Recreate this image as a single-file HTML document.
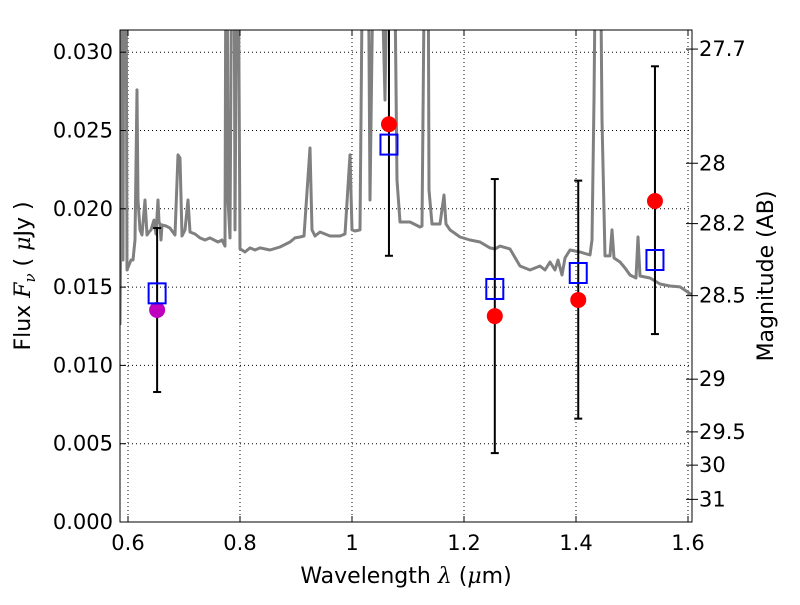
<!DOCTYPE html>
<html><head><meta charset="utf-8"><style>
body{margin:0;background:#fff}
svg text{font-family:"DejaVu Sans","Liberation Sans",sans-serif;fill:#000}
</style></head><body>
<svg id="chart" width="800" height="600" xmlns="http://www.w3.org/2000/svg" xml:space="preserve">
<rect width="800" height="600" fill="#fff"/>
<defs><clipPath id="clip"><rect x="120" y="30" width="572" height="492"/></clipPath></defs>
<g id="grid"></g>
<g id="marks" clip-path="url(#clip)"></g>
<rect x="120" y="30" width="572" height="492" fill="none" stroke="#000" stroke-width="1"/>
<g id="axes"></g>
<text x="406" y="583" font-size="22" text-anchor="middle">Wavelength  <tspan font-style="italic" font-family="DejaVu Serif, serif">λ</tspan> (<tspan font-style="italic" font-family="DejaVu Serif, serif">μ</tspan>m)</text>
<text transform="translate(30,276) rotate(-90)" font-size="22" text-anchor="middle">Flux  <tspan font-style="italic" font-family="DejaVu Serif, serif">F<tspan font-size="15" dy="5">ν</tspan></tspan><tspan dy="-5">  ( </tspan><tspan font-style="italic" font-family="DejaVu Serif, serif">μ</tspan>Jy )</text>
<text transform="translate(773,276) rotate(-90)" font-size="22" text-anchor="middle">Magnitude (AB)</text>
</svg>
<script>
const specLam=[0.5857,0.5875,0.5893,0.5911,0.5929,0.5964,0.5982,0.6018,0.6054,0.6089,0.6125,0.6161,0.6179,0.6214,0.625,0.6304,0.6339,0.6375,0.6411,0.6464,0.65,0.6536,0.6554,0.6571,0.6589,0.6607,0.6679,0.675,0.6839,0.6893,0.6929,0.6964,0.7018,0.7071,0.7107,0.7196,0.7286,0.7375,0.7464,0.7607,0.7679,0.7732,0.775,0.7768,0.7786,0.7821,0.7857,0.7893,0.7911,0.7946,0.7964,0.8,0.8036,0.8089,0.8179,0.8268,0.8357,0.8536,0.8714,0.8893,0.8982,0.9071,0.9143,0.925,0.9286,0.9339,0.9429,0.9607,0.9786,0.9875,0.9964,1.0,1.0054,1.0143,1.0196,1.0286,1.0321,1.0393,1.05,1.0589,1.0643,1.075,1.0804,1.0857,1.1036,1.1214,1.125,1.1304,1.1357,1.1375,1.1429,1.1571,1.1643,1.1679,1.175,1.1929,1.2107,1.2286,1.2464,1.2554,1.2643,1.2821,1.3,1.3179,1.3357,1.3446,1.3536,1.3625,1.3679,1.375,1.3804,1.3893,1.4071,1.425,1.4286,1.4321,1.4357,1.4429,1.4464,1.4518,1.4607,1.4643,1.4679,1.4786,1.4875,1.4964,1.5071,1.5107,1.5143,1.5321,1.55,1.5679,1.5857,1.6071];
const specFlux=[0.01258,0.02056,0.04,0.01673,0.04,0.04,0.01609,0.01641,0.01673,0.01673,0.01801,0.02759,0.02056,0.01865,0.01833,0.02056,0.01833,0.01852,0.01865,0.01928,0.01839,0.02056,0.01916,0.01903,0.01801,0.01897,0.0189,0.01877,0.01833,0.02344,0.02324,0.01826,0.01865,0.02056,0.01852,0.01839,0.01814,0.01801,0.01814,0.01788,0.01801,0.01762,0.04,0.04,0.02056,0.01814,0.04,0.04,0.01865,0.04,0.04,0.01743,0.01737,0.01724,0.0175,0.01737,0.0175,0.01737,0.01756,0.01788,0.01814,0.0182,0.01826,0.02388,0.01865,0.01826,0.01852,0.01826,0.01826,0.01839,0.02344,0.01865,0.01858,0.01865,0.04,0.04,0.02056,0.04,0.04,0.02695,0.04,0.04,0.02184,0.01916,0.01916,0.01884,0.0189,0.04,0.04,0.0212,0.01903,0.01903,0.02088,0.01903,0.01865,0.0182,0.01801,0.01788,0.0175,0.01743,0.01762,0.01743,0.01635,0.01609,0.01635,0.01609,0.0166,0.01609,0.01673,0.01577,0.01686,0.01737,0.01724,0.01705,0.01801,0.02695,0.04,0.04,0.02567,0.01699,0.01699,0.01865,0.01686,0.0166,0.01622,0.01577,0.01558,0.0182,0.01571,0.01558,0.0152,0.01507,0.01501,0.0145];
const obsLam=[1.066,1.255,1.404,1.541];
const obsFlux=[0.0254,0.01315,0.01418,0.0205];
const modelLam=[0.652,1.066,1.255,1.404,1.541];
const modelFlux=[0.0146,0.0241,0.01488,0.0159,0.01673];
const errLo=[0.0083,0.0170,0.0044,0.0066,0.0120];
const errHi=[0.01877,0.034,0.0219,0.0218,0.0291];
const purpleLam=[0.652];
const purpleFlux=[0.01354];
const xTicks=[0.6,0.8,1.0,1.2,1.4,1.6];
const xTickLabels=["0.6","0.8","1","1.2","1.4","1.6"];
const yTicks=[0,0.005,0.01,0.015,0.02,0.025,0.03];
const yTickLabels=["0.000","0.005","0.010","0.015","0.020","0.025","0.030"];
const magTicks=[27.7,28,28.2,28.5,29,29.5,30,31];
const magTickLabels=["27.7","28","28.2","28.5","29","29.5","30","31"];

const X=v=>128+(v-0.6)*560;
const Y=v=>522-v*15660;
const NS="http://www.w3.org/2000/svg";
function mk(parent,tag,attrs){const e=document.createElementNS(NS,tag);for(const k in attrs)e.setAttribute(k,attrs[k]);parent.appendChild(e);return e;}
const grid=document.getElementById('grid'),marks=document.getElementById('marks'),axes=document.getElementById('axes');

xTicks.forEach((t,i)=>{
  const g=mk(grid,'line',{x1:X(t),x2:X(t),y1:30,y2:522,stroke:'#000','stroke-width':1,'stroke-dasharray':'1,3'});
  
  
  const tk=mk(axes,'line',{x1:X(t),x2:X(t),y1:522,y2:516,stroke:'#000'});
  
  
  const tk2=mk(axes,'line',{x1:X(t),x2:X(t),y1:30,y2:36,stroke:'#000'});
  
  
  const lb=mk(axes,'text',{x:X(t),y:550,'font-size':21,'text-anchor':'middle'});
  lb.textContent=xTickLabels[i];
  
  
});
yTicks.forEach((t,i)=>{
  const g=mk(grid,'line',{x1:120,x2:692,y1:Y(t),y2:Y(t),stroke:'#000','stroke-width':1,'stroke-dasharray':'1,3'});
  
  
  const tk=mk(axes,'line',{x1:120,x2:126,y1:Y(t),y2:Y(t),stroke:'#000'});
  
  
  const lb=mk(axes,'text',{x:113,y:Y(t)+7,'font-size':21,'text-anchor':'end'});
  lb.textContent=yTickLabels[i];
  
  
});
magTicks.forEach((m,i)=>{
  const f=Math.pow(10,(23.9-m)/2.5);const y=Y(f);
  const tk=mk(axes,'line',{x1:686,x2:698,y1:y,y2:y,stroke:'#000'});
  
  
  const lb=mk(axes,'text',{x:699,y:y+7,'font-size':21});
  lb.textContent=magTickLabels[i];
  
  
});

const pts=specLam.map((l,i)=>X(l).toFixed(1)+','+Y(specFlux[i]).toFixed(1)).join(' ');
const sp=mk(marks,'polyline',{points:pts,fill:'none',stroke:'#808080','stroke-width':3,'stroke-linejoin':'round'});



modelLam.forEach((l,i)=>{
  const x=X(l);
  const e=mk(marks,'line',{x1:x,x2:x,y1:Y(errLo[i]),y2:Y(errHi[i]),stroke:'#000','stroke-width':2});
  
  
  [errLo[i],errHi[i]].forEach(v=>{
    const c=mk(marks,'line',{x1:x-4,x2:x+4,y1:Y(v),y2:Y(v),stroke:'#000','stroke-width':2});
    
    
  });
});
purpleLam.forEach((l,i)=>{
  const c=mk(marks,'circle',{cx:X(l),cy:Y(purpleFlux[i]),r:8,fill:'#bf00bf'});
  
  
});
obsLam.forEach((l,i)=>{
  const c=mk(marks,'circle',{cx:X(l),cy:Y(obsFlux[i]),r:8,fill:'#ff0000'});
  
  
});
modelLam.forEach((l,i)=>{
  const r=mk(marks,'rect',{x:X(l)-8.5,y:Y(modelFlux[i])-10,width:17,height:20,fill:'none',stroke:'#0000ff','stroke-width':2});
  
  
});
</script>
</body></html>
